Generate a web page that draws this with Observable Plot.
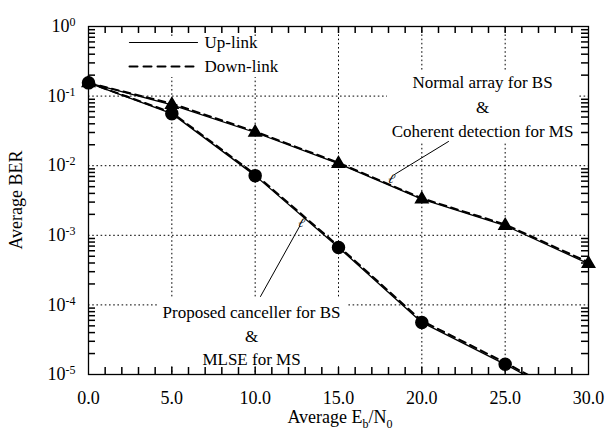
<!DOCTYPE html>
<html><head><meta charset="utf-8">
<script src="https://cdn.jsdelivr.net/npm/d3@7"></script>
<script src="https://cdn.jsdelivr.net/npm/@observablehq/plot@0.6"></script>
<style>body{margin:0;background:#fff}</style>
</head><body><div id="chart"></div>
<script>
// ---- data ----
const ebn0 = [0, 5, 10, 15, 20, 25, 30];
const proposedUp   = [0.155, 0.056, 0.0072, 0.00067, 0.000056, 0.000014, 0.0000032];
const proposedDown = [0.155, 0.058, 0.0075, 0.00070, 0.000059, 0.0000148, 0.0000034];
const normalUp     = [0.155, 0.075, 0.030, 0.0107, 0.0033, 0.00138, 0.00039];
const normalDown   = [0.155, 0.078, 0.031, 0.0110, 0.0034, 0.00143, 0.00041];
const markerX      = [0, 5, 10, 15, 20, 25];           // circles on proposed curve
const xTickValues  = [0, 5, 10, 15, 20, 25, 30];
const xGridValues  = [5, 10, 15, 20, 25];
const yTickValues  = [1, 1e-1, 1e-2, 1e-3, 1e-4, 1e-5];
const yGridValues  = [1e-1, 1e-2, 1e-3, 1e-4];
const legendLabels = ["Up-link", "Down-link"];
const annNormal    = ["Normal array for BS", "&", "Coherent detection for MS"];
const annProposed  = ["Proposed canceller for BS", "&", "MLSE for MS"];

// tables
const rows = (vals, curve, link) => ebn0.map((x, i) => ({x, y: vals[i], curve, link}));
const lines = [
  ...rows(proposedUp, "proposed", "Up-link"), ...rows(proposedDown, "proposed", "Down-link"),
  ...rows(normalUp, "normal", "Up-link"), ...rows(normalDown, "normal", "Down-link")
];
const circles = markerX.map(x => ({x, y: proposedUp[ebn0.indexOf(x)]}));
const triangles = ebn0.map((x, i) => ({x, y: normalUp[i]}));
const minorX = d3.range(1, 30);
const minorY = [];
for (let e = -5; e < 0; e++) for (let m = 2; m <= 9; m++) minorY.push(m * Math.pow(10, e));

// ---- layout (annotation placement, data units) ----
const W = 608, H = 437, ML = 88, MR = 20, MT = 26, MB = 63;
const px2x = p => (p - ML) / ((W - ML - MR) / 30);
const py2y = p => Math.pow(10, -(p - MT) / ((H - MT - MB) / 5));
const boxes = [
  {x1: px2x(120), x2: px2x(290), y1: py2y(36), y2: py2y(77)},
  {x1: px2x(387), x2: px2x(578), y1: py2y(70), y2: py2y(142)},
  {x1: px2x(157), x2: px2x(347), y1: py2y(297), y2: py2y(366)}
];
const legendRows = [
  {label: legendLabels[0], y: py2y(42), dash: null},
  {label: legendLabels[1], y: py2y(66), dash: "8,5"}
];
const legendSeg = legendRows.flatMap(r => [{x: px2x(129), y: r.y, k: r.label, dash: r.dash}, {x: px2x(197), y: r.y, k: r.label, dash: r.dash}]);
const annTexts = [
  ...annNormal.map((t, i) => ({t, x: px2x(482), y: py2y([82, 107, 131][i])})),
  ...annProposed.map((t, i) => ({t, x: px2x(251), y: py2y([312, 336, 359][i])}))
];
const leaders = [
  {k: 1, x: px2x(448), y: py2y(141)}, {k: 1, x: px2x(394), y: py2y(174)},
  {k: 2, x: px2x(260), y: py2y(296)}, {k: 2, x: px2x(299), y: py2y(226)}
];
const hooks = [{x: px2x(391), y: py2y(178)}, {x: px2x(301), y: py2y(222)}];

const font = "Liberation Serif";
const grid = {stroke: "black", strokeOpacity: 1, strokeWidth: 1, strokeDasharray: "1.6,2.6"};
const PH = H - MT - MB, PW = W - ML - MR, TK = 7;
const tickStyle = {stroke: "#000", strokeWidth: 1.5};

const plot = Plot.plot({
  width: W, height: H, marginLeft: ML, marginRight: MR, marginTop: MT, marginBottom: MB,
  style: {fontFamily: font, fontSize: "18px", background: "white", color: "black"},
  x: {domain: [0, 30]},
  y: {type: "log", domain: [1e-5, 1]},
  marks: [
    Plot.gridX(xGridValues, grid),
    Plot.gridY(yGridValues, grid),
    Plot.rect(boxes, {x1: "x1", x2: "x2", y1: "y1", y2: "y2", fill: "white"}),
    // inward minor ticks on all four sides (full-height ticks trimmed with insets)
    Plot.tickX(minorX, {x: d => d, insetTop: PH - TK, ...tickStyle}),
    Plot.tickX(minorX, {x: d => d, insetBottom: PH - TK, ...tickStyle}),
    Plot.tickY(minorY, {y: d => d, insetRight: PW - TK, ...tickStyle}),
    Plot.tickY(minorY, {y: d => d, insetLeft: PW - TK, ...tickStyle}),
    Plot.line(lines.filter(d => d.link === "Up-link"), {x: "x", y: "y", z: "curve", stroke: "black", strokeWidth: 1.3, clip: true}),
    Plot.line(lines.filter(d => d.link === "Down-link"), {x: "x", y: "y", z: "curve", stroke: "black", strokeWidth: 2, strokeDasharray: "7,5", clip: true}),
    Plot.dot(circles, {x: "x", y: "y", r: 6, fill: "black", stroke: "black"}),
    Plot.dot(triangles, {x: "x", y: "y", r: 4.6, symbol: "triangle", fill: "black", stroke: "black"}),
    Plot.line(legendSeg.filter(d => !d.dash), {x: "x", y: "y", stroke: "black", strokeWidth: 1.2}),
    Plot.line(legendSeg.filter(d => d.dash), {x: "x", y: "y", stroke: "black", strokeWidth: 2, strokeDasharray: "8,6"}),
    Plot.text(legendRows, {x: px2x(204), y: "y", text: "label", textAnchor: "start", fontSize: 17, fontFamily: font}),
    Plot.text(annTexts, {x: "x", y: "y", text: "t", fontSize: 17, fill: "black", fontFamily: font}),
    Plot.line(leaders, {x: "x", y: "y", z: "k", stroke: "black", strokeWidth: 1}),
    Plot.text(hooks, {x: "x", y: "y", text: () => "ℓ", fontSize: 14, fontStyle: "italic", rotate: 20, fontFamily: font}),
    Plot.frame({stroke: "black", strokeWidth: 1.3}),
    Plot.axisX(xTickValues, {anchor: "bottom", tickSize: 0, tickPadding: 17, tickFormat: d => d.toFixed(1), label: null, fontSize: 18, fontFamily: font}),
    Plot.axisY(yTickValues, {anchor: "left", tickSize: 0, tickPadding: 13, tickFormat: d => "10^" + Math.round(Math.log10(d)), label: null, fontSize: 18, fontFamily: font})
  ]
});
document.getElementById("chart").appendChild(plot);

const svg = d3.select(plot);
// superscript exponents on y tick labels
svg.selectAll("text").each(function() {
  const s = this.textContent;
  if (/^10\^-?\d$/.test(s)) {
    const exp = s.split("^")[1];
    const t = d3.select(this);
    t.text(null);
    t.append("tspan").text("10");
    t.append("tspan").attr("dy", "-0.5em").attr("font-size", "12px").text(exp);
  }
});
// axis titles
const xt = svg.append("text").attr("x", 340).attr("y", 423).attr("text-anchor", "middle")
  .attr("font-family", font).attr("font-size", "18px").attr("fill", "black");
xt.append("tspan").text("Average E");
xt.append("tspan").attr("dy", "5").attr("font-size", "12px").text("b");
xt.append("tspan").attr("dy", "-5").text("/N");
xt.append("tspan").attr("dy", "5").attr("font-size", "12px").text("0");
svg.append("text").attr("transform", "translate(22,200) rotate(-90)").attr("text-anchor", "middle")
  .attr("font-family", font).attr("font-size", "18px").attr("fill", "black").text("Average BER");
</script></body></html>
